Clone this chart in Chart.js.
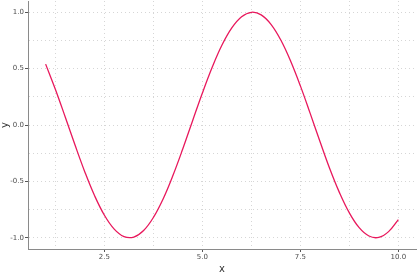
<!DOCTYPE html>
<html>
<head>
<meta charset="utf-8">
<script src="https://cdn.jsdelivr.net/npm/chart.js@4"></script>
<style>
html,body{margin:0;padding:0;background:#fff;}
#wrap{width:417px;height:275px;}
</style>
</head>
<body>
<div id="wrap"><canvas id="c" width="417" height="275"></canvas></div>
<script>
const xValues = [1.00,1.25,1.50,1.75,2.00,2.25,2.50,2.75,3.00,3.25,3.50,3.75,4.00,4.25,4.50,4.75,5.00,5.25,5.50,5.75,6.00,6.25,6.50,6.75,7.00,7.25,7.50,7.75,8.00,8.25,8.50,8.75,9.00,9.25,9.50,9.75,10.00];
const yValues = [0.540,0.315,0.071,-0.178,-0.416,-0.628,-0.801,-0.924,-0.990,-0.994,-0.936,-0.820,-0.654,-0.446,-0.211,0.038,0.284,0.512,0.709,0.861,0.960,1.000,0.977,0.893,0.754,0.568,0.347,0.103,-0.146,-0.388,-0.602,-0.780,-0.911,-0.985,-0.997,-0.946,-0.839];
const xMajorTicks = [2.5,5.0,7.5,10.0];
const xMinorTicks = [1.25,3.75,6.25,8.75];
const yMajorTicks = [-1.0,-0.5,0.0,0.5,1.0];
const yMinorTicks = [-0.75,-0.25,0.25,0.75];

const points = xValues.map((x,i)=>({x:x,y:yValues[i]}));
const isMajor = (arr,v)=>arr.some(m=>Math.abs(m-v)<1e-9);
const tickFont = {family:'DejaVu Sans', size:7};
const tickCol = '#4d4d4d';
const gridCol = '#d6d6d6';
const axisCol = '#8a8a8a';

new Chart(document.getElementById('c'),{
  type:'line',
  data:{datasets:[{data:points,borderColor:'#e8185c',borderWidth:1.3,pointRadius:0,tension:0.4,fill:false}]},
  options:{
    responsive:false,animation:false,
    layout:{padding:{top:1,right:1,left:0,bottom:0}},
    plugins:{legend:{display:false},tooltip:{enabled:false}},
    scales:{
      x:{type:'linear',min:0.55,max:10.45,
        afterBuildTicks:(s)=>{s.ticks=[...xMinorTicks,...xMajorTicks].sort((a,b)=>a-b).map(v=>({value:v}));},
        afterFit:(s)=>{s.height=26;s.paddingLeft=0;s.paddingRight=0;},
        ticks:{autoSkip:false,maxRotation:0,padding:1,font:tickFont,color:tickCol,
          callback:(v)=>isMajor(xMajorTicks,v)?v.toFixed(1):''},
        grid:{color:gridCol,lineWidth:1,tickLength:3,
          tickColor:(ctx)=>ctx.tick&&isMajor(xMajorTicks,ctx.tick.value)?'#555':'rgba(0,0,0,0)'},
        border:{display:true,color:axisCol,width:1,dash:[1,3]},
        title:{display:true,text:'x',font:{family:'DejaVu Sans',size:10,lineHeight:1.2},color:'#333',padding:{top:0,bottom:0}}
      },
      y:{type:'linear',min:-1.1,max:1.1,
        afterBuildTicks:(s)=>{s.ticks=[...yMinorTicks,...yMajorTicks].sort((a,b)=>a-b).map(v=>({value:v}));},
        afterFit:(s)=>{s.width=28;s.paddingTop=0;s.paddingBottom=0;},
        ticks:{autoSkip:false,padding:1,font:tickFont,color:tickCol,
          callback:(v)=>isMajor(yMajorTicks,v)?v.toFixed(1):''},
        grid:{color:gridCol,lineWidth:1,tickLength:3,
          tickColor:(ctx)=>ctx.tick&&isMajor(yMajorTicks,ctx.tick.value)?'#555':'rgba(0,0,0,0)'},
        border:{display:true,color:axisCol,width:1,dash:[1,3]},
        title:{display:true,text:'y',font:{family:'DejaVu Sans',size:10,lineHeight:1},color:'#333',padding:{top:0,bottom:0}}
      }
    }
  }
});
</script>
</body>
</html>
